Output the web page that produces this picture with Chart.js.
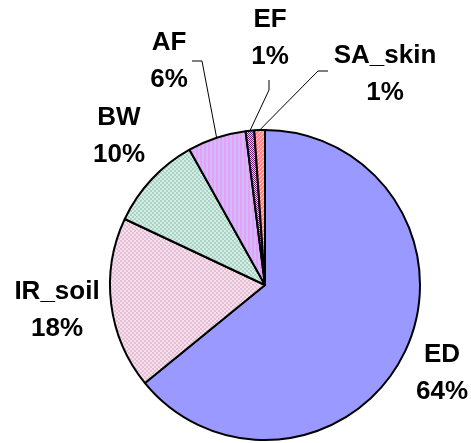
<!DOCTYPE html>
<html lang="en">
<head>
<meta charset="utf-8">
<title>Pie</title>
<script src="https://cdn.jsdelivr.net/npm/chart.js@4/dist/chart.umd.min.js"></script>
<style>
  html, body { margin: 0; padding: 0; background: #fff; }
  #wrap { width: 471px; height: 443px; }
</style>
</head>
<body>
<div id="wrap"><canvas id="pie" width="471" height="443"></canvas></div>
<script>
// data
var names = ["ED", "IR_soil", "BW", "AF", "EF", "SA_skin"];
var shares = [64.1, 17.9, 9.9, 6.1, 0.9, 1.1];

// small tile patterns like the excel fills
function tile(w, h, draw) {
  var c = document.createElement("canvas");
  c.width = w; c.height = h;
  var g = c.getContext("2d");
  draw(g);
  return g.createPattern(c, "repeat");
}
function checker(a, b, s) {
  return tile(s * 2, s * 2, function (g) {
    g.fillStyle = a; g.fillRect(0, 0, s * 2, s * 2);
    g.fillStyle = b; g.fillRect(0, 0, s, s); g.fillRect(s, s, s, s);
  });
}
var fills = [
  "#9999FF",
  checker("#F6E0EC", "#E4BED4", 2),
  checker("#D6EEE2", "#A9D2C8", 2),
  tile(4, 4, function (g) {
    g.fillStyle = "#C8C0FF"; g.fillRect(0, 0, 4, 4);
    g.fillStyle = "#EE9CF6"; g.fillRect(0, 0, 2, 4);
  }),
  checker("#F2D0F2", "#6A1E7A", 1),
  tile(4, 4, function (g) {
    g.fillStyle = "#FF8C8C"; g.fillRect(0, 0, 4, 4);
    g.fillStyle = "#FFD6D0";
    g.fillRect(0, 3, 1, 1); g.fillRect(1, 2, 1, 1); g.fillRect(2, 1, 1, 1); g.fillRect(3, 0, 1, 1);
  })
];

// label block centre relative to pie centre, plus leader elbows
var labelSpots = {
  "ED":      { dx: 177,  dy: 88 },
  "IR_soil": { dx: -208, dy: 25 },
  "BW":      { dx: -146, dy: -149 },
  "AF":      { dx: -96,  dy: -224, lead: [[-73, -224], [-63, -224]] },
  "EF":      { dx: 5,    dy: -247, lead: [[4, -205], [4, -195]] },
  "SA_skin": { dx: 120,  dy: -211, lead: [[63, -214], [53, -214]] }
};

var pieLabels = {
  id: "pieLabels",
  afterDatasetsDraw: function (chart) {
    var ctx = chart.ctx;
    var arcs = chart.getDatasetMeta(0).data;
    ctx.save();
    arcs.forEach(function (arc, i) {
      var p = arc.getProps(["x", "y", "startAngle", "endAngle", "outerRadius"], true);
      var spot = labelSpots[names[i]];
      if (spot.lead) {
        var mid = (p.startAngle + p.endAngle) / 2;
        ctx.beginPath();
        ctx.strokeStyle = "#000";
        ctx.lineWidth = 1;
        ctx.moveTo(p.x + spot.lead[0][0], p.y + spot.lead[0][1]);
        ctx.lineTo(p.x + spot.lead[1][0], p.y + spot.lead[1][1]);
        ctx.lineTo(p.x + Math.cos(mid) * p.outerRadius, p.y + Math.sin(mid) * p.outerRadius);
        ctx.stroke();
      }
      ctx.fillStyle = "#000";
      ctx.font = "bold 26px 'Liberation Sans', Arial, sans-serif";
      ctx.textAlign = "center";
      ctx.textBaseline = "middle";
      var cx = p.x + spot.dx, cy = p.y + spot.dy;
      ctx.fillText(names[i], cx, cy - 18);
      ctx.fillText(Math.round(shares[i]) + "%", cx, cy + 19);
    });
    ctx.restore();
  }
};

new Chart("pie", {
  type: "pie",
  data: {
    labels: names,
    datasets: [{
      data: shares,
      backgroundColor: fills,
      borderColor: "#000",
      borderWidth: 2
    }]
  },
  options: {
    responsive: false,
    animation: false,
    layout: { padding: { left: 109, right: 50, top: 129, bottom: 2 } },
    plugins: {
      legend: { display: false },
      tooltip: { enabled: false }
    }
  },
  plugins: [pieLabels]
});
</script>
</body>
</html>
